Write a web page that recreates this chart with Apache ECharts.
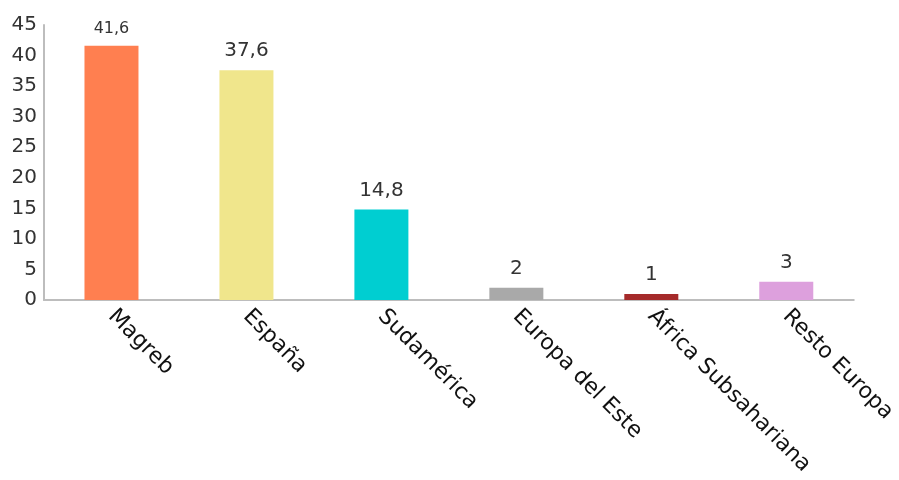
<!DOCTYPE html>
<html>
<head>
<meta charset="utf-8">
<script src="https://cdn.jsdelivr.net/npm/echarts@6/dist/echarts.min.js"></script>
<style>
  html, body { margin: 0; padding: 0; background: #fff; }
  #chart { width: 899px; height: 480px; }
</style>
</head>
<body>
<div id="chart"></div>
<script>
// datos
const regiones = ["Magreb", "España", "Sudamérica", "Europa del Este", "África Subsahariana", "Resto Europa"];
const porcentajes = [41.6, 37.6, 14.8, 2, 1, 3];
const colores = ["#FF7F50", "#F0E68C", "#00CED1", "#A9A9A9", "#A52A2A", "#DDA0DD"];
const labelSizes = [16, 20, 20, 20, 20, 20];

const myChart = echarts.init(document.getElementById("chart"));

const option = {
  animation: false,
  grid: { left: 44, right: 43, top: 25, bottom: 180 },
  xAxis: {
    type: "category",
    data: regiones,
    axisLine: { lineStyle: { color: "#bdbdbd", width: 2 } },
    axisTick: { show: false },
    axisLabel: {
      rotate: -45,
      margin: 13,
      color: "#111",
      fontFamily: "DejaVu Sans",
      fontSize: 22,
      interval: 0,
    },
  },
  yAxis: {
    type: "value",
    min: 0,
    max: 45,
    interval: 5,
    splitLine: { show: false },
    axisLine: { show: true, lineStyle: { color: "#bdbdbd", width: 2 } },
    axisTick: { show: false },
    axisLabel: {
      margin: 7,
      color: "#333",
      fontFamily: "DejaVu Sans",
      fontSize: 20,
    },
  },
  series: [
    {
      type: "bar",
      barWidth: 54,
      data: porcentajes.map((v, i) => ({
        value: v,
        itemStyle: { color: colores[i] },
        label: { fontSize: labelSizes[i] },
      })),
      label: {
        show: true,
        position: "top",
        distance: 9,
        color: "#333",
        fontFamily: "DejaVu Sans",
        formatter: (p) => String(p.value).replace(".", ","),
      },
    },
  ],
};

myChart.setOption(option);
</script>
</body>
</html>
